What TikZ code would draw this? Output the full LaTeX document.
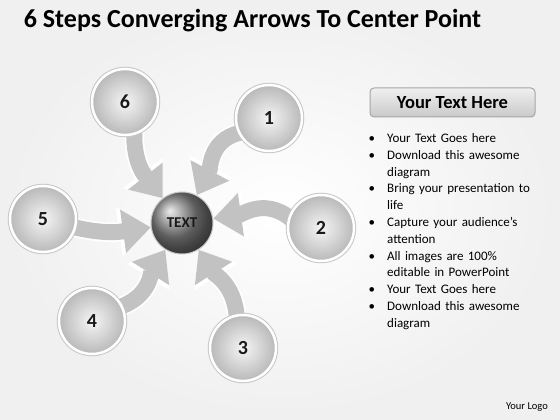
\documentclass[tikz,border=0pt]{standalone}
\usepackage{fontspec}
\setmainfont{Carlito}
\usepackage{enumitem}
\usetikzlibrary{arrows.meta}
\pgfdeclarelayer{back}
\pgfdeclarelayer{flow}
\pgfsetlayers{back,flow,main}

\begin{document}
\begin{tikzpicture}[x=1pt,y=1pt,
    stepball/.style={circle, minimum size=66pt, inner sep=0pt, inner color=gray!8, outer color=gray!55,
      draw=white, line width=2.5pt, preaction={draw=gray!45, line width=4.5pt},
      font=\bfseries\fontsize{20}{20}\selectfont, text=black!90},
    centerball/.style={circle, minimum size=62pt, inner sep=0pt, shading=ball, ball color=black!48,
      draw=gray!45, line width=1pt, font=\bfseries\fontsize{15}{15}\selectfont, text=black!90},
    flow/.style={line width=16pt, draw=gray!48, shorten <=-10pt, -{Triangle[width=42pt,length=28pt]},
      preaction={draw=white, line width=19.5pt, shorten <=-10pt, -{Triangle[width=48pt,length=32pt]}}},
    headbox/.style={rectangle, rounded corners=4pt, minimum width=165pt, minimum height=29pt,
      top color=gray!12, bottom color=gray!42, draw=gray!70, line width=1pt,
      font=\bfseries\fontsize{18.5}{18.5}\selectfont}]
  %%%%% START %%%%%
  \useasboundingbox (0,0) rectangle (560,420);
  \begin{pgfonlayer}{back}
    \fill[inner color=white, outer color=gray!12] (0,0) rectangle (560,420);
  \end{pgfonlayer}

  \node[font=\bfseries\fontsize{26}{26}\selectfont] (title) at (252.5,399) {6 Steps Converging Arrows To Center Point};

  \node[centerball] (ctr) at (182,197) {TEXT};

  \node[stepball] (n1) at (269,302) {1};
  \node[stepball] (n2) at (321,192) {2};
  \node[stepball] (n3) at (243,72) {3};
  \node[stepball] (n4) at (92,99) {4};
  \node[stepball] (n5) at (43,201) {5};
  \node[stepball] (n6) at (125,318) {6};

  \begin{pgfonlayer}{flow}
    \draw[flow] (n1.205) to[out=185, in=62] (ctr.62);
    \draw[flow] (n2.160) to[out=135, in=8] (ctr.8);
    \draw[flow] (n3.100) to[out=90, in=-58] (ctr.-58);
    \draw[flow] (n4.25) to[out=15, in=-122] (ctr.-122);
    \draw[flow] (n5.-15) to[out=-15, in=188] (ctr.188);
    \draw[flow] (n6.-75) to[out=-95, in=128] (ctr.128);
  \end{pgfonlayer}

  \node[headbox] (head) at (452.5,317.5) {Your Text Here};

  \node[anchor=north west, inner sep=0pt, text width=180pt, font=\fontsize{13}{16.8}\selectfont] (list) at (364,294.5) {%
    \begin{itemize}[label=\textbullet, leftmargin=23pt, labelsep=12pt, itemsep=0pt, topsep=0pt, parsep=0pt, partopsep=0pt]
      \item Your Text Goes here
      \item Download this awesome\\ diagram
      \item Bring your presentation to\\ life
      \item Capture your audience’s\\ attention
      \item All images are 100\%\\ editable in PowerPoint
      \item Your Text Goes here
      \item Download this awesome\\ diagram
    \end{itemize}};

  \node[font=\fontsize{10.5}{10.5}\selectfont] (logo) at (527,13) {Your Logo};
  %%%%% END %%%%%
\end{tikzpicture}
\end{document}
